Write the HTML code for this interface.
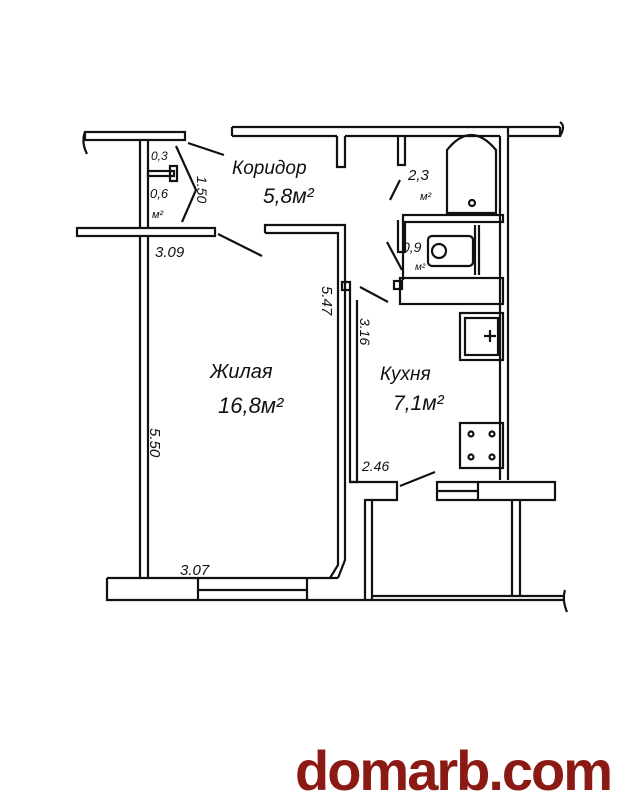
<!DOCTYPE html>
<html><head><meta charset="utf-8"><style>
html,body{margin:0;padding:0;background:#fff;width:630px;height:810px;overflow:hidden}
svg{display:block}
.t{font-family:"Liberation Sans",sans-serif;font-style:italic;fill:#111}
</style></head><body>
<svg width="630" height="810" viewBox="0 0 630 810" xmlns="http://www.w3.org/2000/svg">
<g fill="none" stroke="#111" stroke-width="2.2">
<rect x="85" y="132" width="100" height="8"/>
<path d="M85 132 q-4 10 2 22"/>
<path d="M232 127 L560 127 M232 136 L337 136 M345 136 L500 136 M508 136 L560 136 L560 127"/>
<path d="M232 127 L232 136"/>
<path d="M560 122 q6 4 0 14"/>
<path d="M337 136 L337 167 L345 167 L345 136"/>
<path d="M398 136 L398 165 L405 165 L405 136"/>
<path d="M398 220 L398 252 L405 252 L405 222"/>
<path d="M140 140 L140 228 M148 140 L148 228 M140 236 L140 578 M148 236 L148 578"/>
<rect x="148" y="171" width="26" height="5"/>
<rect x="170" y="166" width="7" height="15"/>
<rect x="77" y="228" width="138" height="8"/>
<path d="M265 233 L265 225 L345 225 L345 560 L338 578 M265 233 L338 233 L338 565 L330 578"/>
<path d="M350 290 L350 482 L357 482 L357 300"/>
<path d="M350 482 L397 482 L397 500 L365 500 L365 600 M372 500 L372 600"/>
<rect x="342" y="282" width="8" height="8"/>
<path d="M500 136 L500 480 M508 127 L508 480"/>
<path d="M512 500 L512 597 M520 500 L520 597"/>
<rect x="437" y="482" width="118" height="18"/>
<path d="M437 491 L478 491 M478 482 L478 500"/>
<path d="M447 213 L447 150 Q471 120 496 150 L496 213 Z"/>
<circle cx="472" cy="203" r="3"/>
<rect x="403" y="215" width="100" height="7"/>
<path d="M403 222 L403 280"/>
<rect x="428" y="236" width="45" height="30" rx="4"/>
<circle cx="439" cy="251" r="7"/>
<path d="M475 225 L475 275 M479 225 L479 275"/>
<rect x="400" y="278" width="103" height="26"/>
<rect x="394" y="281" width="8" height="8"/>
<rect x="460" y="313" width="43" height="47"/>
<rect x="465" y="318" width="33" height="37"/>
<path d="M490 330 L490 342 M484 336 L496 336"/>
<rect x="460" y="423" width="43" height="45"/>
<circle cx="471" cy="434" r="2.5"/><circle cx="492" cy="434" r="2.5"/>
<circle cx="471" cy="457" r="2.5"/><circle cx="492" cy="457" r="2.5"/>
<path d="M107 578 L338 578 M107 578 L107 600 L565 600 M198 578 L198 600 M307 578 L307 600 M198 590 L307 590 M372 596 L565 596"/>
<path d="M565 590 q-3 10 2 22"/>
<path d="M188 143 L224 155 M218 234 L262 256 M360 287 L388 302 M400 486 L435 472 M400 180 L390 200 M387 242 L402 270 M176 146 L196 190 L182 222"/>
</g>
<g class="t">
<text x="232" y="174" font-size="19">Коридор</text>
<text x="263" y="203" font-size="21">5,8м²</text>
<text x="210" y="378" font-size="20">Жилая</text>
<text x="218" y="413" font-size="22">16,8м²</text>
<text x="380" y="380" font-size="19">Кухня</text>
<text x="393" y="410" font-size="21">7,1м²</text>
<text x="408" y="180" font-size="15">2,3</text>
<text x="420" y="200" font-size="11">м²</text>
<text x="402" y="252" font-size="14">0,9</text>
<text x="415" y="270" font-size="10">м²</text>
<text x="151" y="160" font-size="12">0,3</text>
<text x="150" y="198" font-size="13">0,6</text>
<text x="152" y="218" font-size="11">м²</text>
<text x="155" y="257" font-size="15">3.09</text>
<text x="180" y="575" font-size="15">3.07</text>
<text x="362" y="471" font-size="14">2.46</text>
<text font-size="14" transform="translate(197,176) rotate(90)">1.50</text>
<text font-size="15" transform="translate(322,286) rotate(90)">5.47</text>
<text font-size="14" transform="translate(360,318) rotate(90)">3.16</text>
<text font-size="15" transform="translate(150,428) rotate(90)">5.50</text>
</g>
<text x="295" y="790" font-family="Liberation Sans, sans-serif" font-weight="bold" font-size="56" fill="#8b1a14" textLength="318">domarb.com</text>
</svg>
</body></html>
